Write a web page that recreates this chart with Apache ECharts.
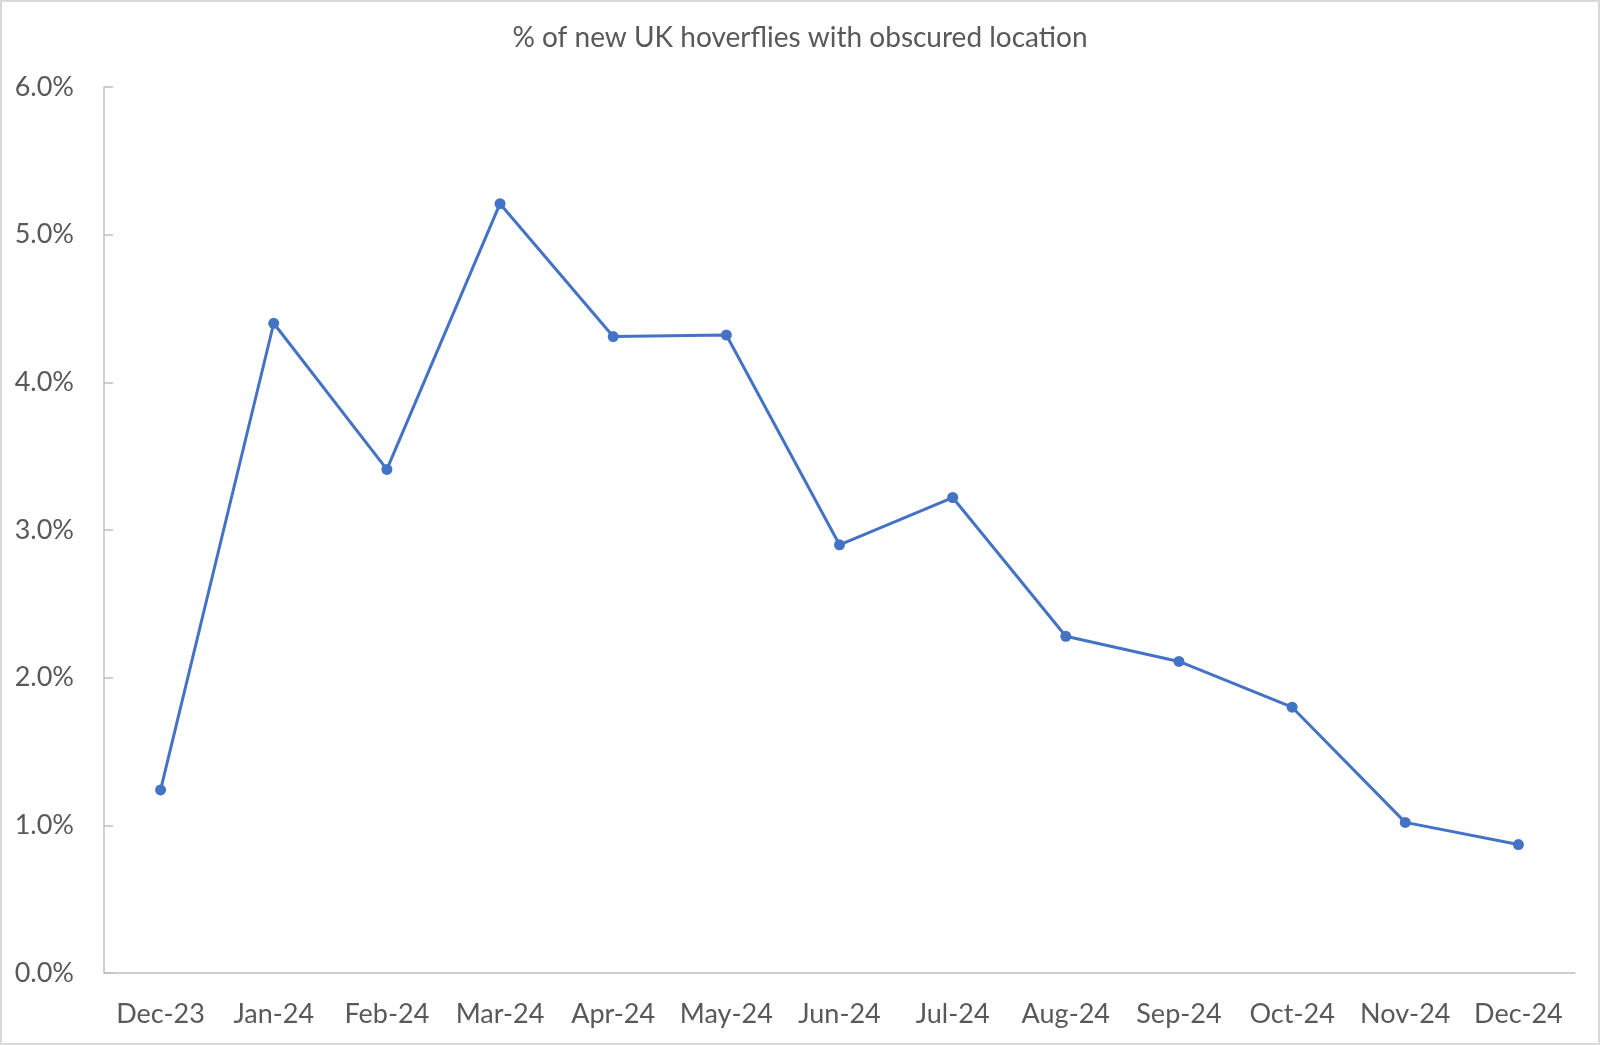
<!DOCTYPE html>
<html>
<head>
<meta charset="utf-8">
<script src="https://cdn.jsdelivr.net/npm/echarts@6/dist/echarts.min.js"></script>
<style>
  html, body { margin: 0; padding: 0; background: #fff; }
  #wrap { width: 1600px; height: 1045px; box-sizing: border-box; border: 2px solid #d9d9d9; }
  #main { width: 1596px; height: 1041px; }
</style>
</head>
<body>
<div id="wrap"><div id="main"></div></div>
<script>
// months on the x axis
var months = ['Dec-23', 'Jan-24', 'Feb-24', 'Mar-24', 'Apr-24', 'May-24', 'Jun-24',
  'Jul-24', 'Aug-24', 'Sep-24', 'Oct-24', 'Nov-24', 'Dec-24']
// share of new records with obscured location, in percent
var obscuredPct = [1.24, 4.40, 3.41, 5.21, 4.31, 4.32, 2.90, 3.22, 2.28, 2.11, 1.80, 1.02, 0.87]
var yTicks = [0, 1, 2, 3, 4, 5, 6]

var font = 'Lato, "Open Sans", sans-serif'
var chart = echarts.init(document.getElementById('main'))
chart.setOption({
  animation: false,
  title: {
    text: '% of new UK hoverflies with obscured location',
    left: 'center',
    top: 17,
    textStyle: { fontFamily: font, fontSize: 28, fontWeight: 'normal', color: '#595959' }
  },
  grid: { left: 102, right: 23, top: 85, bottom: 70, containLabel: false },
  xAxis: {
    type: 'category',
    data: months,
    boundaryGap: true,
    axisLine: { lineStyle: { color: '#bfbfbf', width: 1.5 } },
    axisTick: { show: false },
    axisLabel: { fontFamily: font, fontSize: 27, color: '#595959', margin: 28, interval: 0 }
  },
  yAxis: {
    type: 'value',
    min: yTicks[0],
    max: yTicks[yTicks.length - 1],
    interval: 1,
    splitLine: { show: false },
    axisLine: { show: true, lineStyle: { color: '#bfbfbf', width: 1.5 } },
    axisTick: { show: true, inside: true, length: 9, lineStyle: { color: '#bfbfbf', width: 1.5 } },
    axisLabel: {
      fontFamily: font, fontSize: 27, color: '#595959', margin: 30,
      formatter: function (v) { return v.toFixed(1) + '%' }
    }
  },
  series: [{
    type: 'line',
    data: obscuredPct,
    symbol: 'circle',
    symbolSize: 11,
    lineStyle: { color: '#4472c4', width: 3 },
    itemStyle: { color: '#4472c4' }
  }]
})
</script>
</body>
</html>
